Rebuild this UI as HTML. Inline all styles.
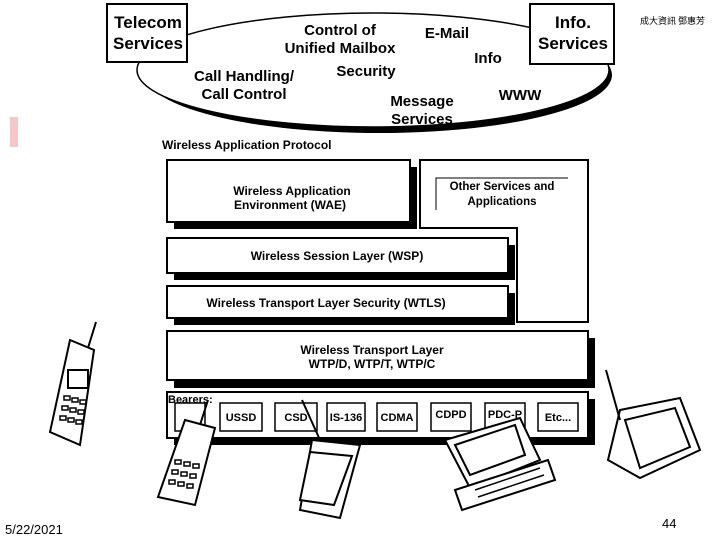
<!DOCTYPE html>
<html><head><style>
body{margin:0;background:#fff;}
svg{display:block;font-family:"Liberation Sans",Arial,sans-serif;font-weight:bold;}
</style></head><body>
<svg width="720" height="540" viewBox="0 0 720 540">
<rect x="10" y="117" width="8" height="30" fill="#f4c8c8"/>
<ellipse cx="379" cy="75" rx="233" ry="58" fill="#000"/>
<ellipse cx="373" cy="70" rx="236" ry="57" fill="#fff" stroke="#000" stroke-width="1.5"/>
<rect x="107" y="4" width="80" height="58" fill="#fff" stroke="#000" stroke-width="2"/>
<rect x="530" y="4" width="84" height="60" fill="#fff" stroke="#000" stroke-width="2"/>
<g font-size="17" text-anchor="middle">
<text x="148" y="28">Telecom</text><text x="148" y="49">Services</text>
<text x="573" y="28">Info.</text><text x="573" y="49">Services</text>
</g>
<g font-size="15" text-anchor="middle">
<text x="340" y="35">Control of</text><text x="340" y="53">Unified Mailbox</text>
<text x="447" y="38">E-Mail</text>
<text x="488" y="63">Info</text>
<text x="366" y="76">Security</text>
<text x="244" y="81">Call Handling/</text><text x="244" y="99">Call Control</text>
<text x="422" y="106">Message</text><text x="422" y="124">Services</text>
<text x="520" y="100">WWW</text>
</g>
<text x="162" y="149" font-size="12">Wireless Application Protocol</text>
<text x="640" y="24" font-size="9" font-weight="normal" font-family="'Noto Sans CJK TC',sans-serif">成大資訊 鄧惠芳</text>
<g fill="#000">
<rect x="174" y="167" width="243" height="62"/>
<rect x="174" y="245" width="341" height="35"/>
<rect x="174" y="293" width="341" height="32"/>
<rect x="174" y="338" width="421" height="50"/>
<rect x="174" y="399" width="421" height="46"/>
</g>
<g fill="#fff" stroke="#000" stroke-width="2">
<rect x="167" y="160" width="243" height="62"/>
<path d="M420 160 H588 V322 H517 V228 H420 Z"/>
<rect x="167" y="238" width="341" height="35"/>
<rect x="167" y="286" width="341" height="32"/>
<rect x="167" y="331" width="421" height="49"/>
<rect x="167" y="392" width="421" height="46"/>
</g>
<path d="M568 178 H436 V210" fill="none" stroke="#000" stroke-width="1"/>
<g font-size="12" text-anchor="middle">
<text x="292" y="195">Wireless Application</text><text x="290" y="209">Environment (WAE)</text>
<text x="502" y="190" font-size="11.5">Other Services and</text><text x="502" y="205" font-size="11.5">Applications</text>
<text x="337" y="260">Wireless Session Layer (WSP)</text>
<text x="326" y="307">Wireless Transport Layer Security (WTLS)</text>
<text x="372" y="354">Wireless Transport Layer</text><text x="372" y="368">WTP/D, WTP/T, WTP/C</text>
</g>
<text x="168" y="403" font-size="11">Bearers:</text>
<g fill="#fff" stroke="#000" stroke-width="1.5">
<rect x="175" y="403" width="30" height="28"/><rect x="220" y="403" width="42" height="28"/>
<rect x="275" y="403" width="42" height="28"/><rect x="327" y="403" width="38" height="28"/>
<rect x="377" y="403" width="40" height="28"/><rect x="431" y="403" width="40" height="28"/>
<rect x="485" y="403" width="40" height="28"/><rect x="538" y="403" width="40" height="28"/>
</g>
<g font-size="11" text-anchor="middle">
<text x="241" y="421">USSD</text><text x="296" y="421">CSD</text><text x="346" y="421">IS-136</text>
<text x="397" y="421">CDMA</text><text x="451" y="418">CDPD</text><text x="505" y="418">PDC-P</text><text x="558" y="421">Etc...</text>
</g>
<g fill="#fff" stroke="#000" stroke-width="2">
<path d="M70 340 L94 350 L80 445 L50 432 Z"/>
<line x1="88" y1="348" x2="96" y2="322"/>
<rect x="68" y="370" width="20" height="18"/>
<path d="M185 420 L215 428 L195 505 L158 497 Z"/>
<line x1="200" y1="425" x2="208" y2="400"/>
<path d="M312 440 L360 445 L340 518 L300 510 Z"/>
<line x1="320" y1="440" x2="302" y2="400"/>
<path d="M310 452 L352 456 L334 505 L300 500 Z"/>
<path d="M445 440 L520 418 L540 460 L470 488 Z"/>
<path d="M455 445 L515 425 L525 455 L470 475 Z"/>
<path d="M455 490 L548 460 L555 480 L462 510 Z"/>
<path d="M620 410 L680 398 L700 450 L640 478 L608 460 Z"/>
<path d="M625 420 L675 408 L690 447 L640 468 Z"/>
<line x1="620" y1="420" x2="606" y2="370"/>
</g>
<g fill="none" stroke="#000" stroke-width="1.5">
<path d="M64 396h6v4h-6zM72 398h6v4h-6zM80 400h6v4h-6zM62 406h6v4h-6zM70 408h6v4h-6zM78 410h6v4h-6zM60 416h6v4h-6zM68 418h6v4h-6zM76 420h6v4h-6z"/>
<path d="M175 460h6v4h-6zM184 462h6v4h-6zM193 464h6v4h-6zM172 470h6v4h-6zM181 472h6v4h-6zM190 474h6v4h-6zM169 480h6v4h-6zM178 482h6v4h-6zM187 484h6v4h-6z"/>
<path d="M475 490 L540 468 M478 497 L544 475"/>
</g>
<text x="5" y="534" font-size="13" font-weight="normal">5/22/2021</text>
<text x="662" y="528" font-size="13" font-weight="normal">44</text>
</svg>
</body></html>
